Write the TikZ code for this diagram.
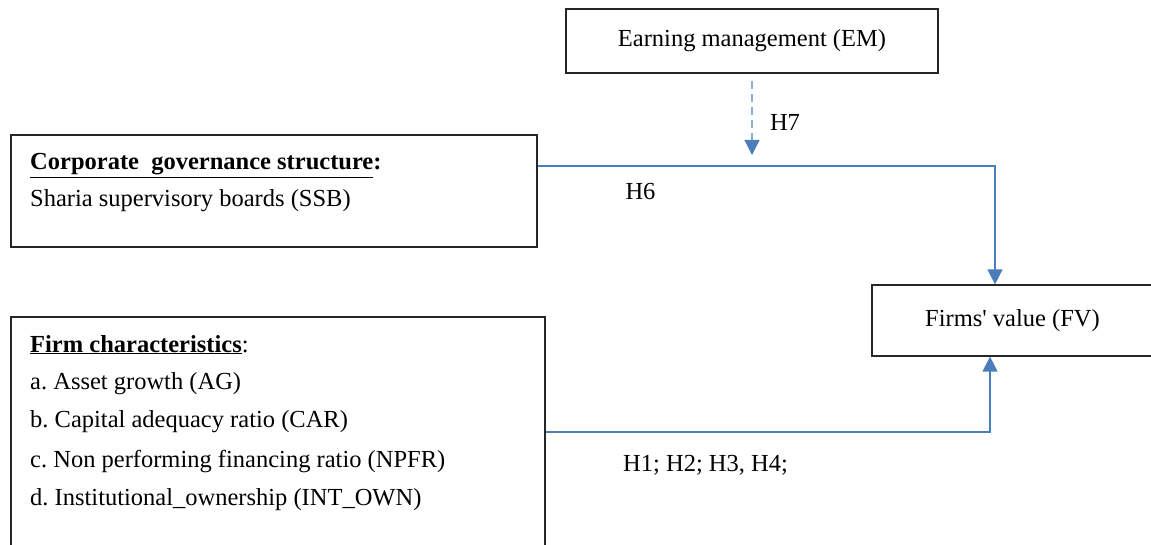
\documentclass[tikz,border=0pt]{standalone}
\usepackage{fontspec}
\setmainfont{Liberation Serif}
\usepackage{tikz}
\usetikzlibrary{arrows.meta}
\definecolor{linkblue}{HTML}{4A7EBB}
\definecolor{dashblue}{HTML}{8EAEDA}
\def\bodyfont{\fontsize{24.5}{29}\selectfont}
\frenchspacing

\begin{document}
\begin{tikzpicture}[x=1pt,y=-1pt,
  box/.style={draw=black!85,line width=1.2pt,inner sep=0pt,font=\bodyfont},
  txt/.style={anchor=base west,inner sep=0pt,font=\bodyfont},
  hlab/.style={inner sep=0pt,font=\bodyfont},
  link/.style={draw=linkblue,line width=1.3pt,-{Triangle[width=15pt,length=15pt,color=linkblue]}}]
\useasboundingbox (0,0) rectangle (1151,545);
\draw[] (752,41) node[box,minimum width=372,minimum height=64] (em) {Earning management (EM)};
\draw[] (1012.5,320.5) node[box,minimum width=281,minimum height=71] (fv) {Firms\textquotesingle{} value (FV)};
\draw[] (274,191) node[box,minimum width=526,minimum height=112] (cgs) {};
\draw[] (278,432.5) node[box,minimum width=534,minimum height=231] (fc) {};
\node[txt] (cgstitle) at (30,170) {\underline{\textbf{Corporate\ \ governance structure}}\textbf{:}};
\node[txt] (cgsssb) at (30,207) {Sharia supervisory boards (SSB)};
\node[txt] (fctitle) at (30,352) {\underline{\textbf{Firm characteristics}}:};
\node[txt] (fcag) at (30,389) {a. Asset growth (AG)};
\node[txt] (fccar) at (30,427) {b. Capital adequacy ratio (CAR)};
\node[txt] (fcnpfr) at (30,467) {c. Non performing financing ratio (NPFR)};
\node[txt] (fcown) at (30,505) {d. Institutional\_ownership (INT\_OWN)};
\coordinate (emtip) at (752,155);
\coordinate (bendA) at (995,166);
\coordinate (bendB) at (990,432);
\draw[link,draw=dashblue,dash pattern=on 8pt off 5pt] ([yshift=-7pt]em.south) -- node[hlab,pos=0.56,xshift=33pt] (h7) {H7} (emtip);
\draw[link] (cgs.east |- bendA) -- node[hlab,pos=0.225,yshift=-26pt] (h6) {H6} (bendA) -- (bendA |- fv.north);
\draw[link] (fc.east |- bendB) -- node[hlab,pos=0.36,yshift=-33pt] (h1) {H1; H2; H3, H4;} (bendB) -- (bendB |- fv.south);
\end{tikzpicture}
\end{document}
